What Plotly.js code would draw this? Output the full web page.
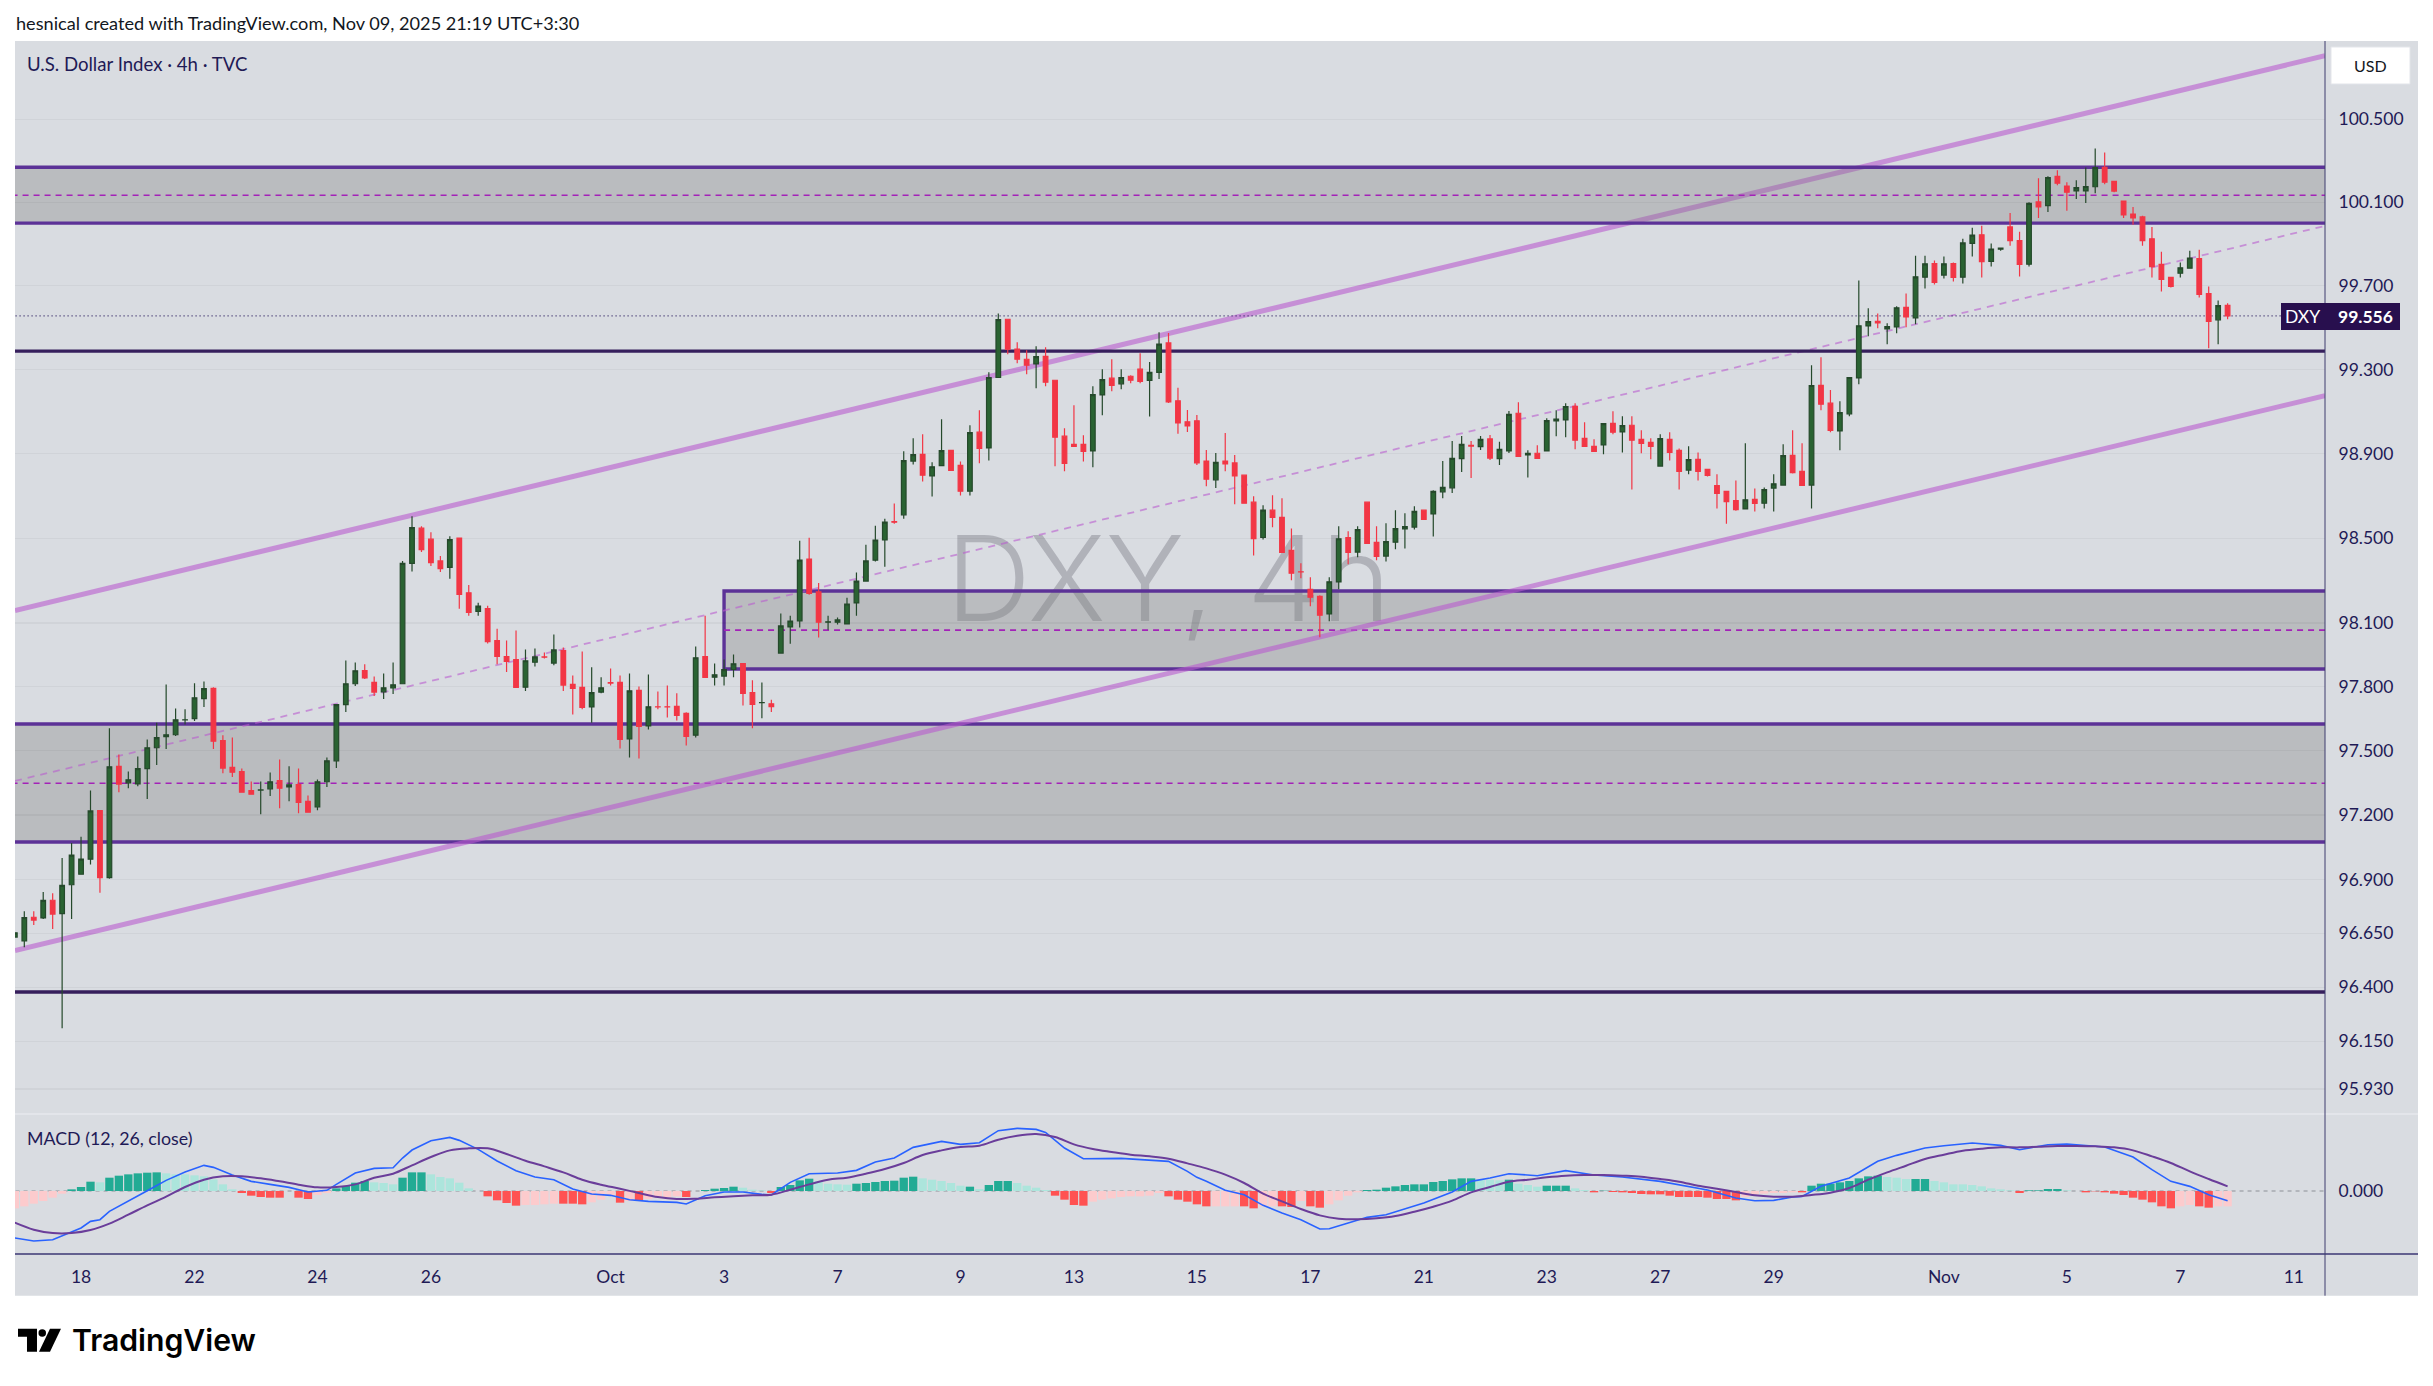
<!DOCTYPE html>
<html><head><meta charset="utf-8">
<script src="https://cdn.plot.ly/plotly-3.0.1.min.js"></script>
<style>html,body{margin:0;padding:0;background:#fff}#c{width:2433px;height:1386px}</style>
</head><body><div id="c"></div>
<script>
// ---------- DATA ----------
const opens = [
96.632,96.614,96.724,96.721,96.803,96.741,96.875,96.924,96.994,97.220,
96.908,97.427,97.350,97.345,97.416,97.514,97.566,97.575,97.644,97.650,
97.744,97.792,97.548,97.422,97.403,97.314,97.316,97.322,97.361,97.331,
97.342,97.263,97.238,97.355,97.453,97.716,97.814,97.876,97.820,97.776,
97.794,97.814,98.381,98.547,98.495,98.392,98.362,98.500,98.242,98.154,
98.167,98.017,97.942,97.928,97.798,97.915,97.940,97.911,97.970,97.811,
97.797,97.705,97.775,97.819,97.820,97.555,97.783,97.616,97.706,97.706,
97.708,97.675,97.573,97.942,97.845,97.850,97.881,97.909,97.773,97.725,
97.720,97.958,98.081,98.109,98.401,98.246,98.103,98.103,98.095,98.194,
98.297,98.396,98.491,98.578,98.610,98.865,98.897,98.794,98.843,98.916,
98.844,98.722,99.002,98.927,99.262,99.540,99.397,99.349,99.327,99.363,
99.249,98.983,98.944,98.944,98.913,99.179,99.259,99.232,99.268,99.302,
99.248,99.287,99.427,99.151,99.051,99.056,98.865,98.776,98.865,98.856,
98.798,98.670,98.503,98.632,98.598,98.442,98.341,98.258,98.225,98.142,
98.293,98.503,98.434,98.670,98.480,98.415,98.481,98.543,98.552,98.632,
98.614,98.719,98.738,98.876,98.940,98.933,98.970,98.876,98.913,99.092,
98.894,98.902,98.913,99.056,99.060,99.125,98.973,98.935,98.941,99.044,
99.003,99.035,98.968,98.954,98.841,98.968,98.916,98.822,98.873,98.825,
98.749,98.721,98.678,98.638,98.683,98.665,98.737,98.751,98.892,98.816,
98.751,99.225,99.140,99.008,99.089,99.260,99.508,99.530,99.494,99.503,
99.597,99.546,99.741,99.806,99.751,99.806,99.741,99.903,99.944,99.817,
99.875,99.982,99.916,99.803,100.102,100.084,100.225,100.178,100.155,100.155,
100.175,100.268,100.201,100.106,100.044,100.030,99.925,99.802,99.740,99.760,
99.784,99.830,99.663,99.537,99.606];
const highs = [
96.652,96.752,96.752,96.841,96.836,97.000,97.069,97.099,97.314,97.220,
97.605,97.483,97.403,97.473,97.553,97.631,97.811,97.698,97.694,97.816,
97.825,97.798,97.572,97.562,97.417,97.356,97.356,97.398,97.459,97.427,
97.417,97.291,97.366,97.469,97.716,97.923,97.914,97.905,97.848,97.862,
97.914,98.392,98.603,98.556,98.528,98.415,98.509,98.500,98.279,98.195,
98.181,98.073,98.017,98.064,97.975,97.980,97.961,98.045,97.984,97.853,
97.965,97.891,97.844,97.886,97.853,97.862,97.801,97.858,97.778,97.806,
97.769,97.680,97.989,98.134,97.909,97.928,97.951,97.909,97.830,97.820,
97.739,98.144,98.134,98.487,98.502,98.288,98.134,98.125,98.219,98.337,
98.469,98.559,98.591,98.664,98.911,98.973,98.992,98.859,99.063,98.916,
98.863,99.035,99.106,99.287,99.568,99.540,99.430,99.392,99.411,99.406,
99.249,99.021,99.130,98.987,99.221,99.302,99.349,99.302,99.273,99.378,
99.336,99.478,99.474,99.213,99.108,99.084,98.917,98.903,98.998,98.894,
98.798,98.698,98.656,98.703,98.689,98.546,98.381,98.315,98.230,98.315,
98.556,98.532,98.556,98.670,98.556,98.570,98.632,98.618,98.651,98.632,
98.727,98.865,98.960,98.984,98.960,98.984,98.989,98.956,99.103,99.144,
98.916,98.940,99.068,99.106,99.140,99.140,99.049,98.968,99.043,99.102,
99.078,99.078,99.011,98.973,98.992,99.002,98.925,98.935,98.906,98.825,
98.802,98.721,98.773,98.949,98.735,98.740,98.802,98.945,99.011,98.949,
99.321,99.359,99.202,99.149,99.262,99.725,99.592,99.568,99.521,99.602,
99.663,99.844,99.844,99.821,99.840,99.811,99.925,99.978,99.987,99.902,
99.882,100.049,99.959,100.100,100.216,100.225,100.254,100.197,100.206,100.267,
100.359,100.340,100.201,100.106,100.078,100.035,99.982,99.863,99.740,99.811,
99.868,99.873,99.697,99.630,99.616];
const lows = [
96.632,96.585,96.688,96.716,96.669,96.210,96.716,96.924,96.969,96.838,
96.903,97.306,97.325,97.334,97.274,97.433,97.508,97.569,97.623,97.639,
97.705,97.508,97.395,97.377,97.306,97.297,97.203,97.288,97.231,97.264,
97.208,97.213,97.222,97.330,97.419,97.681,97.803,97.836,97.756,97.742,
97.766,97.814,98.342,98.434,98.368,98.340,98.308,98.167,98.134,98.134,
98.003,97.905,97.869,97.797,97.780,97.895,97.933,97.901,97.780,97.670,
97.694,97.631,97.769,97.806,97.511,97.469,97.464,97.600,97.694,97.656,
97.642,97.525,97.562,97.844,97.806,97.806,97.844,97.712,97.605,97.652,
97.682,97.958,98.002,98.078,98.233,98.031,98.068,98.092,98.095,98.134,
98.297,98.390,98.365,98.568,98.592,98.849,98.768,98.697,98.843,98.821,
98.702,98.702,98.854,98.868,99.262,99.373,99.330,99.278,99.211,99.221,
98.840,98.816,98.935,98.863,98.835,99.083,99.197,99.206,99.235,99.235,
99.076,99.255,99.141,98.994,99.003,98.846,98.746,98.737,98.817,98.660,
98.665,98.418,98.494,98.551,98.432,98.301,98.310,98.178,98.032,98.108,
98.258,98.376,98.409,98.475,98.395,98.390,98.447,98.451,98.541,98.589,
98.508,98.689,98.713,98.813,98.784,98.917,98.870,98.846,98.903,98.887,
98.787,98.878,98.913,98.983,98.978,98.921,98.935,98.911,98.897,98.992,
98.906,98.730,98.902,98.873,98.841,98.868,98.730,98.802,98.773,98.792,
98.640,98.568,98.630,98.638,98.626,98.640,98.626,98.751,98.806,98.749,
98.640,99.106,99.002,98.916,99.078,99.230,99.459,99.497,99.421,99.473,
99.502,99.516,99.687,99.706,99.735,99.721,99.711,99.840,99.740,99.792,
99.868,99.892,99.744,99.792,100.025,100.054,100.182,100.059,100.116,100.097,
100.144,100.187,100.149,100.025,99.992,99.892,99.740,99.673,99.692,99.740,
99.784,99.644,99.402,99.421,99.540];
const closes = [
96.652,96.722,96.711,96.802,96.739,96.872,97.013,96.994,97.219,96.908,
97.425,97.344,97.364,97.416,97.514,97.561,97.575,97.645,97.645,97.748,
97.791,97.545,97.419,97.400,97.306,97.297,97.317,97.355,97.325,97.341,
97.259,97.213,97.355,97.453,97.716,97.814,97.875,97.841,97.775,97.795,
97.809,98.381,98.550,98.445,98.384,98.356,98.493,98.234,98.150,98.179,
98.012,97.942,97.919,97.797,97.922,97.940,97.939,97.973,97.808,97.792,
97.703,97.772,97.795,97.817,97.553,97.781,97.614,97.706,97.705,97.705,
97.666,97.567,97.936,97.844,97.856,97.880,97.908,97.769,97.717,97.726,
97.706,98.086,98.109,98.396,98.239,98.103,98.105,98.114,98.189,98.297,
98.392,98.491,98.576,98.575,98.867,98.895,98.798,98.838,98.914,98.821,
98.722,99.000,98.925,99.262,99.538,99.397,99.349,99.321,99.362,99.240,
98.978,98.854,98.935,98.911,99.181,99.252,99.225,99.262,99.249,99.244,
99.287,99.421,99.146,99.046,99.032,98.856,98.779,98.859,98.851,98.794,
98.665,98.498,98.632,98.598,98.432,98.334,98.340,98.221,98.136,98.294,
98.497,98.432,98.540,98.475,98.414,98.483,98.545,98.554,98.626,98.589,
98.721,98.740,98.878,98.944,98.936,98.968,98.879,98.921,99.087,98.887,
98.902,98.878,99.057,99.064,99.124,98.964,98.935,98.911,99.043,99.002,
99.033,98.964,98.949,98.935,98.971,98.906,98.816,98.872,98.816,98.797,
98.711,98.673,98.635,98.681,98.664,98.729,98.757,98.891,98.810,98.749,
99.224,99.135,99.011,99.095,99.262,99.509,99.529,99.522,99.505,99.595,
99.551,99.743,99.805,99.716,99.805,99.740,99.905,99.943,99.816,99.876,
99.881,99.916,99.802,100.095,100.078,100.219,100.192,100.149,100.171,100.176,
100.267,100.197,100.154,100.040,100.025,99.916,99.792,99.730,99.697,99.786,
99.833,99.659,99.530,99.605,99.556];

const macdHist = [
-.052,-.046,-.038,-.030,-.020,-.008,.005,.012,.028,.026,
.040,.046,.050,.053,.055,.056,.053,.050,.050,.047,
.044,.035,.020,.005,-.006,-.014,-.018,-.020,-.020,0,
-.020,-.024,-.012,-.006,.008,.015,.025,.030,.026,.024,
.020,.040,.056,.056,.050,.042,.038,.025,.008,0,
-.016,-.028,-.036,-.044,-.042,-.042,-.040,-.038,-.038,-.038,
-.040,-.034,-.026,-.014,-.035,-.030,-.030,-.024,-.020,-.018,
-.016,-.018,0,.003,.007,.009,.013,.010,.004,.002,
-.006,.012,.018,.032,.037,.030,.022,.020,.019,.022,
.024,.027,.030,.031,.040,.043,.038,.034,.030,.024,
.016,.013,.006,.018,.030,.030,.024,.016,.010,.003,
-.014,-.026,-.042,-.044,-.032,-.026,-.022,-.018,-.016,-.016,
-.014,-.006,-.016,-.026,-.032,-.040,-.046,-.046,-.046,-.046,
-.046,-.052,-.046,-.046,-.046,-.048,-.030,-.046,-.050,-.040,
-.028,-.014,-.004,.003,.004,.010,.014,.018,.020,.020,
.027,.030,.035,.038,.038,.034,.034,.032,.034,.022,
.018,.013,.016,.016,.016,.008,.003,-.004,.001,-.003,
-.004,-.006,-.009,-.010,-.010,-.014,-.018,-.018,-.018,-.020,
-.024,-.024,-.028,-.018,-.010,-.008,-.006,-.006,-.004,-.004,
.016,.022,.022,.026,.030,.038,.044,.046,.042,.040,
.036,.036,.036,.030,.026,.020,.020,.018,.014,.008,
.005,.002,-.006,.002,.002,.006,.006,.002,0,-.004,
-.001,-.004,-.008,-.012,-.020,-.026,-.034,-.046,-.052,-.046,
-.042,-.046,-.050,-.046,-.046];
// runs of bars drawn in the full-strength histogram colour; all others are the pale shade
const histStrongRuns = [[6,8],[10,15],[24,31],[34,37],[41,43],[50,53],[58,60],[64,64],[66,66],[71,71],[73,76],[80,84],[89,95],[101,101],[103,105],[110,113],[122,126],[130,131],[134,135],[137,138],[143,154],[158,158],[162,164],[167,182],[189,197],[201,202],[212,216],[219,228],[231,232]];

const macdBars = [0,2,4,6,7,8,9,10,12,14,16,18,20,21,23,25,27,29,31,33,34,36,38,40,41,42,44,46,47,49,51,53,55,57,59,61,63,65,67,70,71,73,75,77,79,80,82,84,87,89,91,93,95,98,100,102,104,106,108,109,111,113,117,120,122,124,125,126,128,130,132,134,136,138,139,141,143,145,147,149,152,154,156,158,161,164,167,170,174,176,179,182,184,186,188,189,191,194,197,199,202,204,207,210,212,215,217,221,224,226,228,230,232,234];
const macdLine = [-.141,-.150,-.146,-.124,-.111,-.091,-.086,-.061,-.029,.001,.032,.057,.077,.071,.048,.029,.020,.011,-.003,.002,.020,.054,.068,.070,.099,.123,.151,.161,.152,.125,.090,.061,.042,.034,.006,-.009,-.013,-.026,-.031,-.034,-.039,-.014,-.003,-.003,-.010,-.012,.026,.052,.054,.062,.087,.099,.131,.149,.140,.145,.181,.188,.185,.176,.129,.097,.098,.092,.089,.059,.041,.029,.002,-.011,-.043,-.066,-.086,-.114,-.113,-.096,-.079,-.071,-.053,-.036,-.003,.029,.039,.052,.046,.061,.048,.042,.029,.018,.003,-.021,-.029,-.028,-.018,-.016,.014,.039,.089,.107,.129,.136,.144,.137,.124,.139,.141,.132,.102,.064,.029,.014,-.011,-.029];
const signalBars = [0,2,4,6,8,10,12,14,16,18,20,22,24,26,28,30,32,34,36,38,40,42,44,46,48,50,52,54,56,58,60,62,64,66,68,70,72,74,76,78,80,82,84,86,88,90,92,94,96,98,100,102,104,106,108,110,112,114,116,118,120,122,124,126,128,130,132,134,136,138,140,142,144,146,148,150,152,154,156,158,160,162,164,166,168,170,172,174,176,178,180,182,184,186,188,190,192,194,196,198,200,202,204,206,208,210,212,214,216,218,220,222,224,226,228,230,232,234];
const signalLine = [-.095,-.116,-.126,-.126,-.117,-.098,-.071,-.043,-.017,.012,.034,.044,.044,.038,.029,.019,.011,.012,.020,.040,.052,.077,.102,.122,.128,.128,.111,.091,.074,.056,.034,.019,.007,-.006,-.018,-.024,-.023,-.019,-.016,-.013,-.011,.004,.020,.034,.040,.052,.066,.084,.108,.122,.132,.136,.154,.166,.171,.162,.140,.126,.117,.109,.104,.097,.083,.068,.049,.024,-.008,-.031,-.054,-.073,-.083,-.085,-.082,-.075,-.062,-.047,-.029,-.004,.012,.028,.034,.041,.046,.048,.048,.046,.043,.036,.028,.016,.007,-.003,-.013,-.017,-.017,-.012,-.005,.009,.034,.056,.076,.096,.109,.121,.127,.131,.131,.133,.135,.135,.134,.131,.122,.104,.084,.059,.036,.014];

const priceTicks = [100.5,100.1,99.7,99.3,98.9,98.5,98.1,97.8,97.5,97.2,96.9,96.65,96.4,96.15,95.93];
const priceTickLabels = ['100.500','100.100','99.700','99.300','98.900','98.500','98.100','97.800','97.500','97.200','96.900','96.650','96.400','96.150','95.930'];
const timeTicks = [7,19,32,44,63,75,87,100,112,125,137,149,162,174,186,204,217,229,241];
const timeLabels = ['18','22','24','26','Oct','3','7','9','13','15','17','21','23','27','29','Nov','5','7','11'];

const lastPrice = 99.556;
const upperZone = {top:100.269, mid:100.134, bottom:100.000};
const middleZone = {start:75, top:98.250, mid:98.066, bottom:97.883};
const lowerZone = {top:97.625, mid:97.348, bottom:97.074};
const levelHigh = 99.388, levelLow = 96.378;
const channelEnds = [0.016,244.3];
const channelUpper = [98.158,100.807];
const channelMid = [97.359,99.987];
const channelLower = [96.570,99.176];

// ---------- LAYOUT HELPERS ----------
const L=15,R=2325,T=41,B=1254.3,PANE=1114.3,FULLB=1296,FULLR=2418;
const px=x=>(x-L)/(R-L), py=y=>(B-y)/(B-T);
const bars = opens.map((_,i)=>i);
const xRange=[0.016,244.3];
const navy='#1f1a56', zoneLine='#5c3297', darkLine='#361f5c', midDash='#a322b8', chan='rgba(185,92,207,0.6)', zoneFill='rgba(128,128,128,0.35)';
const FONT='Lato, Roboto, sans-serif';

function hl(v,color,width,dash,x0){return {type:'line',xref:'x',yref:'y',x0:x0===undefined?-5:x0,x1:250,y0:v,y1:v,layer:'below',line:{color,width,dash:dash||'solid'}};}
function seg(ys,color,width,dash){return {type:'line',xref:'x',yref:'y',x0:channelEnds[0],x1:channelEnds[1],y0:ys[0],y1:ys[1],layer:'below',line:{color,width,dash:dash||'solid'}};}
function zone(z,line){const x0=z.start===undefined?-5:z.start;return {type:'rect',xref:'x',yref:'y',x0,x1:250,y0:z.bottom,y1:z.top,layer:'below',fillcolor:zoneFill,line:line?{color:zoneLine,width:3.4}:{width:0}};}
function pline(x0,y0,x1,y1,color,width){return {type:'line',xref:'paper',yref:'paper',x0:px(x0),x1:px(x1),y0:py(y0),y1:py(y1),layer:'above',line:{color,width}};}
function pbox(x0,y0,x1,y1,fill,lineC,layer){return {type:'rect',xref:'paper',yref:'paper',x0:px(x0),x1:px(x1),y0:py(y0),y1:py(y1),layer:layer||'above',fillcolor:fill,line:lineC?{color:lineC,width:1}:{width:0}};}
function note(t,x,y,size,color,anchor,extra){return Object.assign({text:t,xref:'paper',yref:'paper',x:px(x),y:py(y),xanchor:anchor||'left',yanchor:'middle',showarrow:false,font:{family:FONT,size,color}},extra||{});}
function logoPath(pts){return 'M'+pts.map(p=>px(p[0]).toFixed(5)+','+py(p[1]).toFixed(5)).join(' L')+' Z';}

const shapes=[
 pbox(L,T,FULLR,FULLB,'#d9dce1',null,'below'),
 zone(lowerZone,false),
 hl(lowerZone.top,zoneLine,3.4),hl(lowerZone.bottom,zoneLine,3.4),hl(lowerZone.mid,midDash,1.6,'6px,5px'),
 zone(middleZone,true),hl(middleZone.mid,midDash,1.6,'6px,5px',middleZone.start),
 seg(channelUpper,chan,5),seg(channelLower,chan,5),seg(channelMid,'rgba(185,92,207,0.6)',1.8,'7px,6px'),
 zone(upperZone,false),
 hl(upperZone.top,zoneLine,3.4),hl(upperZone.bottom,zoneLine,3.4),hl(upperZone.mid,midDash,1.6,'6px,5px'),
 hl(levelHigh,darkLine,3.4),hl(levelLow,darkLine,3.4),
 {type:'line',xref:'x',yref:'y',x0:-5,x1:239.8,y0:lastPrice,y1:lastPrice,layer:'below',line:{color:'#2a1a5e',width:1.4,dash:'1px,3px'}},
 {type:'line',xref:'x',yref:'y2',x0:-5,x1:250,y0:0,y1:0,layer:'below',line:{color:'#8d9097',width:1.2,dash:'4px,4px'}},
 pline(L,PANE,FULLR,PANE,'#e6e8ec',1.5),
 pline(L,B,FULLR,B,'#3b3773',1.5),
 pline(R,T,R,FULLB,'#3f3d6e',1),
 pbox(2281,303,2400,330,'#280f4e'),
 pbox(2331,47,2410,84,'#ffffff','#e3e5ea'),
 {type:'path',xref:'paper',yref:'paper',layer:'above',fillcolor:'#000',line:{width:0},path:logoPath([[18,1329],[37,1329],[37,1352],[27,1352],[27,1337],[18,1337]])},
 {type:'path',xref:'paper',yref:'paper',layer:'above',fillcolor:'#000',line:{width:0},path:logoPath([[50,1329],[61,1329],[50,1352],[39,1352]])},
 {type:'circle',xref:'paper',yref:'paper',layer:'above',fillcolor:'#000',line:{width:0},x0:px(38.5),x1:px(46),y0:py(1337),y1:py(1329.5)}
];

const annotations=[
 note('DXY, 4h',1168,578,118,'rgba(126,127,138,0.45)','center',{font:{family:'Inter, Roboto, sans-serif',size:118,color:'rgba(126,127,138,0.45)',weight:300}}),
 note('hesnical created with TradingView.com, Nov 09, 2025 21:19 UTC+3:30',13.5,23,18.15,'#131722'),
 note('U.S. Dollar Index · 4h · TVC',24.5,64,18.6,navy),
 note('MACD (12, 26, close)',24.5,1138,17.8,navy),
 note('DXY',2302,316.5,17.5,'#ffffff','center'),
 note('99.556',2336,316.5,17.5,'#ffffff','left',{font:{family:FONT,size:17.5,color:'#fff',weight:700}}),
 note('USD',2370,65.5,16,'#131722','center'),
 note('TradingView',70,1340,30.2,'#000000','left',{font:{family:'Inter, Roboto, sans-serif',size:30.2,color:'#000',weight:600}})
];

const histColors = macdHist.map((v,i)=>{
  const strong = histStrongRuns.some(r=>i>=r[0]&&i<=r[1]);
  if(v>=0) return strong?'#22ab94':'#ace5dc';
  return strong?'#ff5252':'#fccbcd';
});

const data=[
 {type:'bar',x:bars,y:macdHist,xaxis:'x',yaxis:'y2',marker:{color:histColors,line:{width:0}},hoverinfo:'skip'},
 {type:'scatter',mode:'lines',x:macdBars,y:macdLine,xaxis:'x',yaxis:'y2',line:{color:'#2962ff',width:1.6},hoverinfo:'skip'},
 {type:'scatter',mode:'lines',x:signalBars,y:signalLine,xaxis:'x',yaxis:'y2',line:{color:'#6a3d9a',width:2,shape:'spline'},hoverinfo:'skip'},
 {type:'candlestick',x:bars,open:opens,high:highs,low:lows,close:closes,xaxis:'x',yaxis:'y',
  increasing:{line:{color:'#25492b',width:1.2},fillcolor:'#2a6332'},
  decreasing:{line:{color:'#f23645',width:1.2},fillcolor:'#f23645'},hoverinfo:'skip'}
];

const layout={
 width:2433,height:1386,showlegend:false,paper_bgcolor:'#fff',plot_bgcolor:'rgba(0,0,0,0)',
 margin:{l:L,r:2433-R,t:T,b:1386-B,pad:0},bargap:0.12,
 xaxis:{anchor:'y2',range:xRange,rangeslider:{visible:false},tickmode:'array',tickvals:timeTicks,ticktext:timeLabels,showgrid:false,zeroline:false,showline:false,ticks:'outside',ticklen:6.5,tickcolor:'rgba(0,0,0,0)',tickfont:{family:FONT,size:17.5,color:navy},tickangle:0},
 yaxis:{domain:[(B-PANE)/(B-T),1],type:'log',side:'right',anchor:'x',range:[Math.log10(95.815),Math.log10(100.878)],tickmode:'array',tickvals:priceTicks,ticktext:priceTickLabels,gridcolor:'rgba(0,0,0,0.04)',gridwidth:1.2,zeroline:false,showline:false,ticks:'outside',ticklen:9,tickcolor:'rgba(0,0,0,0)',tickfont:{family:FONT,size:17.5,color:navy}},
 yaxis2:{domain:[0,(B-PANE)/(B-T)],side:'right',anchor:'x',range:[-0.189,0.231],tickmode:'array',tickvals:[0],ticktext:['0.000'],showgrid:false,zeroline:false,showline:false,ticks:'outside',ticklen:9,tickcolor:'rgba(0,0,0,0)',tickfont:{family:FONT,size:17.5,color:navy}},
 shapes,annotations
};

Plotly.newPlot('c',data,layout,{displayModeBar:false,staticPlot:true}).then(gd=>{
  // the watermark sits behind the candles, as on the original chart
  const an=[...gd.querySelectorAll('.annotation')].find(a=>a.textContent==='DXY, 4h');
  const cart=gd.querySelector('.cartesianlayer');
  if(an&&cart) cart.parentNode.insertBefore(an,cart);
});
</script></body></html>
